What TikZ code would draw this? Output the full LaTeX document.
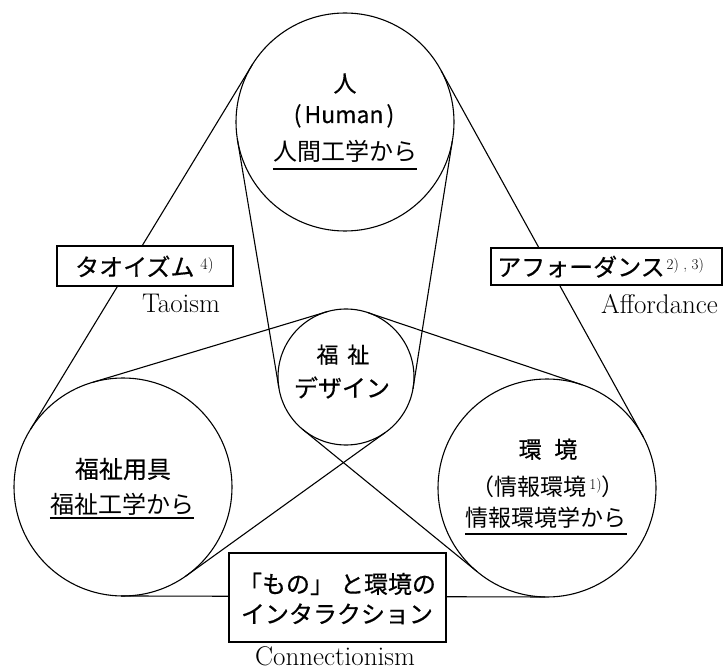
\documentclass[tikz,border=0pt]{standalone}
\usepackage{fontspec}
\newfontfamily\jp{Noto Sans CJK JP}
\newfontfamily\jpm[FakeBold=0.5]{Noto Sans CJK JP}
\begin{document}
\begin{tikzpicture}[x=1pt,y=1pt,
  ring/.style={circle, draw, line width=1.1pt, inner sep=0pt, outer sep=0pt},
  tanline/.style={line width=1.1pt},
  lbox/.style={draw, fill=white, line width=1.5pt, inner sep=0pt, outer sep=0pt},
  jt/.style={font=\jp\fontsize{24}{28}\selectfont, inner sep=0pt, anchor=base},
  jh/.style={font=\jpm\fontsize{23}{28}\selectfont, inner sep=0pt, anchor=base},
  en/.style={font=\fontsize{27}{30}\selectfont, inner sep=0pt, anchor=base},
  uline/.style={line width=1.3pt}]
\useasboundingbox (0,0) rectangle (725,670);
% circles
\node[ring, minimum size=218pt] (T) at (345,548) {};
\node[ring, minimum size=218pt] (L) at (123,183) {};
\node[ring, minimum size=218pt] (R) at (547,182) {};
\node[ring, minimum size=136pt] (C) at (346,293) {};
% tangent connectors
\draw[tanline] (T.148.7) -- (L.148.7);
\draw[tanline] (T.28.9) -- (R.28.9);
\draw[tanline] (L.269.9) -- (R.269.9);
\draw[tanline] (T.350.97) -- (C.350.97);
\draw[tanline] (T.189.47) -- (C.189.47);
\draw[tanline] (C.106.77) -- (L.106.77);
\draw[tanline] (C.305.75) -- (L.305.75);
\draw[tanline] (C.71.39) -- (R.71.39);
\draw[tanline] (C.230.81) -- (R.230.81);
% boxes
\node[lbox, minimum width=176pt, minimum height=40pt] (bT) at (145,404) {};
\node[lbox, minimum width=231pt, minimum height=37pt] (bA) at (606.5,403.5) {};
\node[lbox, minimum width=217pt, minimum height=89pt] (bC) at (337.5,72.5) {};
% box texts
\node[jh, font=\jpm\fontsize{24}{28}\selectfont, anchor=base west] (tTao) at (75,394) {タオイズム\hspace{6pt}\raisebox{6pt}{\rmfamily\fontsize{16}{16}\selectfont 4)}};
\node[jh, font=\jpm\fontsize{24}{28}\selectfont, anchor=base west] (tAff) at (497,394) {アフォーダンス\hspace{2pt}\raisebox{6pt}{\rmfamily\fontsize{15}{15}\selectfont 2)\ ,\ 3)}};
\node[jh, font=\jpm\fontsize{24}{28}\selectfont] (tC1) at (337,77) {「もの」\hspace{6pt}と環境の};
\node[jh, font=\jpm\fontsize{24}{28}\selectfont] (tC2) at (337,47) {インタラクション};
% english labels
\node[en] (eTao) at (181,357) {Taoism};
\node[en] (eAff) at (659.5,356) {Affordance};
\node[en] (eCon) at (335,5) {Connectionism};
% top circle
\node[jh] (h1) at (345,578) {人};
\node[jh, font=\jpm\fontsize{23}{28}\selectfont] (h2) at (344,547) {(\hspace{3pt}Human\hspace{3pt})};
\node[jt] (h3) at (345,509) {人間工学から};
\draw[uline] ([yshift=-8pt]h3.base west) -- ([yshift=-8pt]h3.base east);
% left circle
\node[jh, font=\jpm\fontsize{24}{28}\selectfont] (l1) at (123,192) {福祉用具};
\node[jt] (l2) at (122,157) {福祉工学から};
\draw[uline] ([yshift=-5pt]l2.base west) -- ([yshift=-5pt]l2.base east);
% right circle
\node[jh] (r1) at (548,212) {環\hspace{0.55em}境};
\node[jt, font=\jp\fontsize{23}{28}\selectfont] (r2) at (548,175) {（情報環境\hspace{3pt}\raisebox{6pt}{\rmfamily\fontsize{15}{15}\selectfont 1)}）};
\node[jt, font=\jp\fontsize{23}{28}\selectfont] (r3) at (546,144) {情報環境学から};
\draw[uline] ([yshift=-8pt]r3.base west) -- ([yshift=-8pt]r3.base east);
% center circle
\node[jh, font=\jpm\fontsize{22}{28}\selectfont] (c1) at (343,307) {福\hspace{0.4em}祉};
\node[jh, font=\jpm\fontsize{24}{28}\selectfont] (c2) at (342,273) {デザイン};
\end{tikzpicture}
\end{document}
